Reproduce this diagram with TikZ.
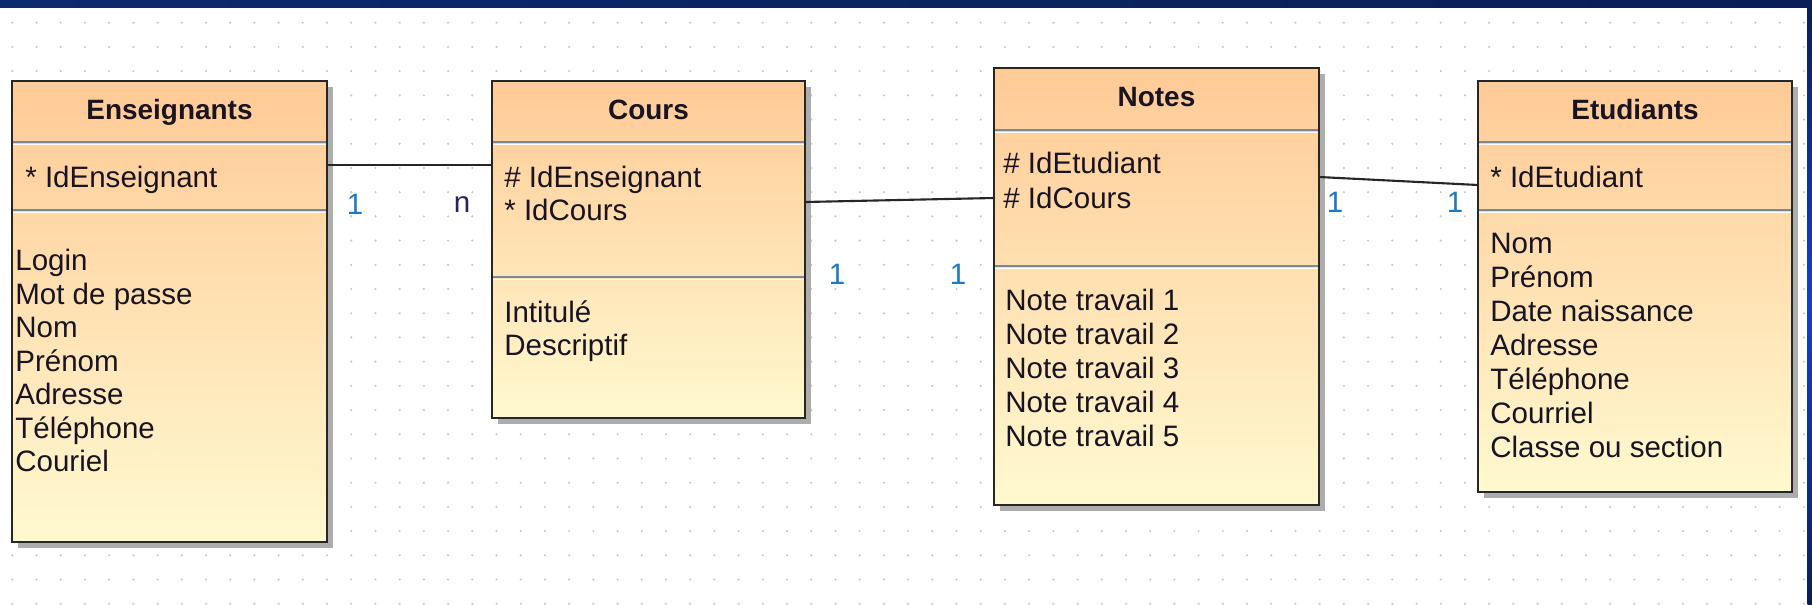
\documentclass[tikz,border=0pt]{standalone}
\usepackage{fontspec}
\setmainfont{Liberation Sans}
\usepackage{xcolor}
\usepackage{tikz}
\usetikzlibrary{shadows}

\definecolor{boxtop}{RGB}{255,202,150}
\definecolor{boxbot}{RGB}{255,249,208}
\definecolor{gridc}{RGB}{200,200,200}
\definecolor{sepc}{RGB}{125,135,145}
\definecolor{multc}{RGB}{30,120,200}
\definecolor{navyc}{RGB}{45,30,100}
\definecolor{bandl}{RGB}{12,42,110}
\definecolor{bandr}{RGB}{10,30,85}
\definecolor{edgec}{RGB}{20,64,200}
\definecolor{inkc}{RGB}{25,20,35}

\tikzset{
  box/.style={draw=black!85, line width=1.5pt, top color=boxtop, bottom color=boxbot,
    inner sep=0pt, outer sep=0pt, anchor=north west,
    drop shadow={shadow xshift=0.11cm, shadow yshift=-0.11cm, fill=black!32, opacity=1}},
  title/.style={font=\fontsize{15.9}{19}\selectfont\bfseries, text=inkc, inner sep=0pt, anchor=base},
  attr/.style={font=\fontsize{16.8}{20}\selectfont, text=inkc, inner sep=0pt, anchor=base west},
  divline/.style={draw=sepc, line width=1.1pt, shorten <=0.7pt, shorten >=0.7pt},
  link/.style={draw=black!85, line width=1.2pt},
  mult/.style={font=\fontsize{16.8}{20}\selectfont, text=multc, inner sep=0pt},
}

% etched separator across a class box
\newcommand\classsep[2]{%
  \draw[divline] (#1.west |- 0,#2) -- (#1.east |- 0,#2);
  \draw[white, line width=0.8pt, shorten <=0.7pt, shorten >=0.7pt]
    (#1.west |- 0,{#2-0.05}) -- (#1.east |- 0,{#2-0.05});}

\begin{document}
\begin{tikzpicture}
  \useasboundingbox (0,0) rectangle (36.24,12.08);
  \fill[white] (0,0) rectangle (36.24,12.08);

  % dotted grid
  \foreach \i in {0,...,74}
    \foreach \j in {0,...,24}
      \fill[gridc] ({0.246+0.4842*\i},{11.626-0.4842*\j}) circle (0.024);

  % classes
  \node[box, minimum width=6.3cm, minimum height=9.22cm] (ens) at (0.24,10.46) {};
  \node[box, minimum width=6.26cm, minimum height=6.74cm] (cours) at (9.84,10.46) {};
  \node[box, minimum width=6.5cm, minimum height=8.74cm] (notes) at (19.88,10.72) {};
  \node[box, minimum width=6.28cm, minimum height=8.22cm] (etu) at (29.56,10.46) {};

  \classsep{ens}{9.24}   \classsep{ens}{7.88}
  \classsep{cours}{9.24} \classsep{cours}{6.54}
  \classsep{notes}{9.48} \classsep{notes}{6.76}
  \classsep{etu}{9.24}   \classsep{etu}{7.88}

  % Enseignants
  \node[title] (ens-t) at ([yshift=-0.76cm]ens.north) {Enseignants};
  \node[attr] (ens-k) at (0.50,8.33) {* IdEnseignant};
  \foreach \t [count=\i from 0] in {Login,Mot de passe,Nom,Prénom,Adresse,Téléphone,Couriel}
    \node[attr] (ens-\i) at (0.30,{6.67-0.67*\i}) {\t};

  % Cours
  \node[title] (cours-t) at ([yshift=-0.76cm]cours.north) {Cours};
  \node[attr] (cours-k1) at (10.08,8.33) {\# IdEnseignant};
  \node[attr] (cours-k2) at (10.08,7.67) {* IdCours};
  \node[attr] (cours-0) at (10.08,5.63) {Intitulé};
  \node[attr] (cours-1) at (10.08,4.97) {Descriptif};

  % Notes
  \node[title] (notes-t) at ([yshift=-0.77cm]notes.north) {Notes};
  \node[attr] (notes-k1) at (20.06,8.61) {\# IdEtudiant};
  \node[attr] (notes-k2) at (20.06,7.91) {\# IdCours};
  \foreach \i in {1,...,5}
    \node[attr] (notes-\i) at (20.10,{5.87-0.68*(\i-1)}) {Note travail \i};

  % Etudiants
  \node[title] (etu-t) at ([yshift=-0.76cm]etu.north) {Etudiants};
  \node[attr] (etu-k) at (29.80,8.33) {* IdEtudiant};
  \foreach \t [count=\i from 0] in {Nom,Prénom,Date naissance,Adresse,Téléphone,Courriel,Classe ou section}
    \node[attr] (etu-\i) at (29.80,{7.01-0.68*\i}) {\t};

  % associations
  \draw[link] (ens.east |- 0,8.78) -- (cours.west |- 0,8.78);
  \node[mult] (m1) at (7.10,8.00) {1};
  \node[mult, text=navyc] (m2) at (9.24,7.98) {n};

  \draw[link] (cours.east |- 0,8.04) -- (notes.west |- 0,8.12);
  \node[mult] (m3) at (16.74,6.60) {1};
  \node[mult] (m4) at (19.16,6.60) {1};

  \draw[link] (notes.east |- 0,8.54) -- (etu.west |- 0,8.38);
  \node[mult] (m5) at (26.70,8.04) {1};
  \node[mult] (m6) at (29.10,8.04) {1};

  % window frame
  \shade[left color=bandl, right color=bandr] (0,11.94) rectangle (36.24,12.08);
  \shade[top color=bandr, bottom color=bandr, middle color=edgec] (36.15,0) rectangle (36.24,11.94);
\end{tikzpicture}
\end{document}
